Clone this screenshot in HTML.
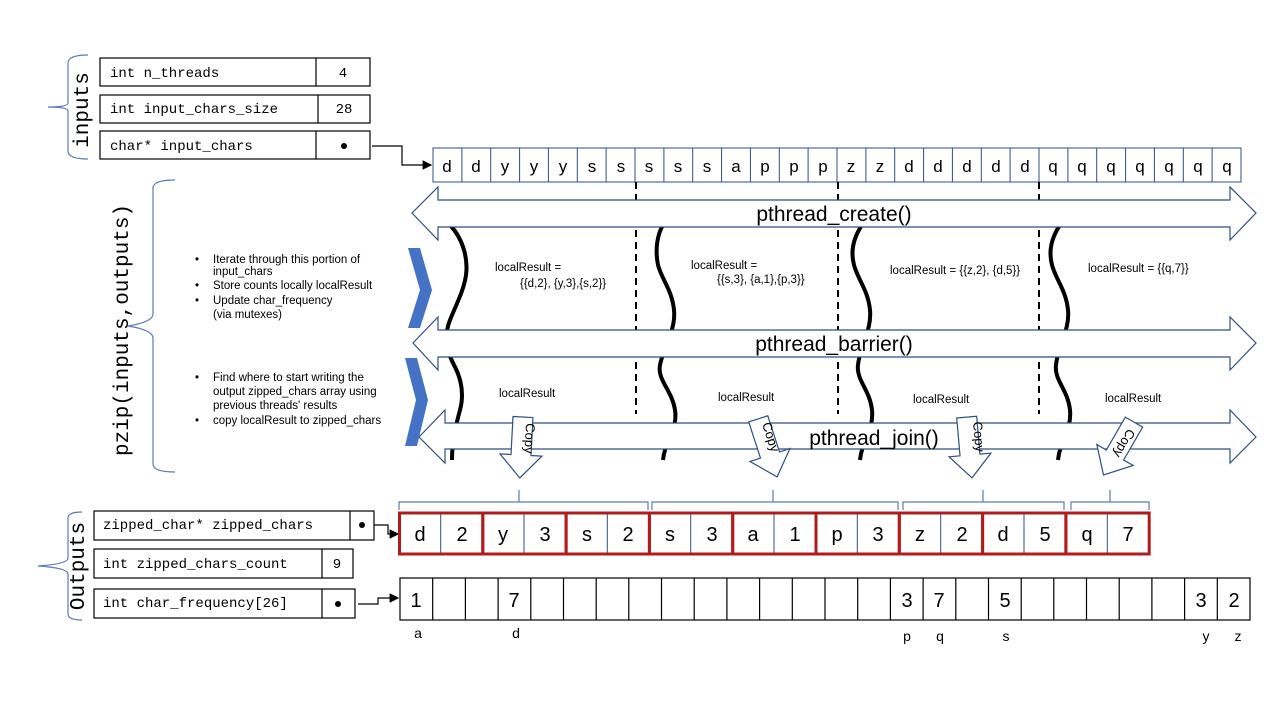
<!DOCTYPE html>
<html><head><meta charset="utf-8"><style>
body{margin:0;background:#fff}
svg{display:block}
.m{font-family:"Liberation Mono",monospace;font-size:14px}
.s{font-family:"Liberation Sans",sans-serif}
</style></head><body>
<svg width="1280" height="720" viewBox="0 0 1280 720" xmlns="http://www.w3.org/2000/svg">
<defs><marker id="ah" markerWidth="8" markerHeight="8" refX="7" refY="4" orient="auto"><path d="M0,0 L8,4 L0,8z" fill="#000"/></marker></defs>
<g fill="none" stroke="#5a7bb5" stroke-width="1.2">
<path d="M88,55 q-20,0 -20,8 v40 q0,4 -20,4 q20,0 20,4 v40 q0,8 20,8"/>
<path d="M175,180 q-22,0 -22,8 v126 q0,8 -25,12 q25,4 25,12 v126 q0,8 22,8"/>
<path d="M82,512 q-14,0 -14,6 v40 q0,6 -30,8 q30,2 30,8 v40 q0,6 14,6"/>
</g>
<text style="font-family:'Liberation Mono',monospace;font-size:21px" transform="translate(88,110) rotate(-90)" text-anchor="middle">inputs</text>
<text style="font-family:'Liberation Mono',monospace;font-size:21px" transform="translate(128,330) rotate(-90)" text-anchor="middle">pzip(inputs,outputs)</text>
<text style="font-family:'Liberation Mono',monospace;font-size:21px" transform="translate(84,566) rotate(-90)" text-anchor="middle">Outputs</text>
<g stroke="#000" stroke-width="1.2" fill="#fff">
<rect x="100" y="58" width="270" height="28"/><line x1="316" y1="58" x2="316" y2="86"/>
<rect x="100" y="95" width="270" height="28"/><line x1="318" y1="95" x2="318" y2="123"/>
<rect x="100" y="131" width="270" height="28"/><line x1="316" y1="131" x2="316" y2="159"/>
<rect x="94" y="511" width="280" height="29"/><line x1="350" y1="511" x2="350" y2="540"/>
<rect x="94" y="549" width="259" height="29"/><line x1="322" y1="549" x2="322" y2="578"/>
<rect x="94" y="589" width="261" height="29"/><line x1="322" y1="589" x2="322" y2="618"/>
</g>
<g class="m">
<text x="110" y="77">int n_threads</text><text x="343" y="77" text-anchor="middle">4</text>
<text x="110" y="113">int input_chars_size</text><text x="344" y="113" text-anchor="middle">28</text>
<text x="110" y="150">char* input_chars</text>
<text x="103" y="529">zipped_char* zipped_chars</text>
<text x="103" y="568">int zipped_chars_count</text><text x="337" y="568" text-anchor="middle">9</text>
<text x="103" y="607">int char_frequency[26]</text>
</g>
<circle cx="344" cy="146" r="3" fill="#000"/><circle cx="362" cy="525" r="3" fill="#000"/><circle cx="338" cy="604" r="3" fill="#000"/>
<g stroke="#000" stroke-width="1.2" fill="none">
<path d="M372,146 H402 V165 H431" marker-end="url(#ah)"/>
<path d="M374,525 H388 V534 H398" marker-end="url(#ah)"/>
<path d="M358,604 H378 V598 H398" marker-end="url(#ah)"/>
</g>
<g stroke="#2f4f80" stroke-width="1" fill="none">
<rect x="433" y="148" width="808" height="34"/>
<path d="M461.9,148V182M490.7,148V182M519.6,148V182M548.4,148V182M577.3,148V182M606.1,148V182M635,148V182M663.9,148V182M692.7,148V182M721.6,148V182M750.4,148V182M779.3,148V182M808.1,148V182M837,148V182M865.9,148V182M894.7,148V182M923.6,148V182M952.4,148V182M981.3,148V182M1010.1,148V182M1039,148V182M1067.9,148V182M1096.7,148V182M1125.6,148V182M1154.4,148V182M1183.3,148V182M1212.1,148V182"/>
</g>
<g class="s" font-size="17" text-anchor="middle">
<text x="447" y="172">d</text><text x="476" y="172">d</text><text x="505" y="172">y</text><text x="534" y="172">y</text><text x="563" y="172">y</text><text x="592" y="172">s</text><text x="621" y="172">s</text><text x="649" y="172">s</text><text x="678" y="172">s</text><text x="707" y="172">s</text><text x="736" y="172">a</text><text x="765" y="172">p</text><text x="794" y="172">p</text><text x="823" y="172">p</text><text x="851" y="172">z</text><text x="880" y="172">z</text><text x="909" y="172">d</text><text x="938" y="172">d</text><text x="967" y="172">d</text><text x="996" y="172">d</text><text x="1025" y="172">d</text><text x="1053" y="172">q</text><text x="1082" y="172">q</text><text x="1111" y="172">q</text><text x="1140" y="172">q</text><text x="1169" y="172">q</text><text x="1198" y="172">q</text><text x="1227" y="172">q</text>
</g>
<g stroke="#000" stroke-width="2" stroke-dasharray="7,5">
<line x1="636" y1="182" x2="636" y2="414"/><line x1="838" y1="182" x2="838" y2="414"/><line x1="1039" y1="182" x2="1039" y2="414"/>
</g>
<g stroke="#000" stroke-width="4" fill="none">
<path d="M450,225 c14,15 18,35 16,50 c-2,15 -10,30 -16,45 c-6,15 -4,30 4,45 c8,15 10,30 6,45 c-4,15 -8,30 -8,50"/>
<path d="M663,225 c-6,10 -8,25 -5,40 c4,15 14,25 16,45 c2,20 -10,35 -14,55 c-3,15 12,25 15,45 c3,20 -10,30 -12,50"/>
<path d="M862,225 c-8,12 -12,25 -8,40 c4,15 14,25 16,45 c2,20 -10,35 -12,55 c-2,15 12,25 14,45 c2,20 -10,30 -12,50"/>
<path d="M1060,225 c-8,12 -12,25 -8,40 c4,15 14,25 16,45 c2,20 -10,35 -12,55 c-2,15 12,25 14,45 c2,20 -10,30 -12,50"/>
</g>
<g fill="#fff" stroke="#2f4f80" stroke-width="1.2">
<path d="M412,213 L438,187 V200 H1230 V187 L1256,213 L1230,240 V227 H438 V240 Z"/>
<path d="M413,343 L438,317 V330 H1230 V317 L1256,343 L1230,370 V357 H438 V370 Z"/>
<path d="M419,437 L445,410 V423 H1230 V410 L1256,437 L1230,463 V449 H445 V463 Z"/>
</g>
<g class="s" font-size="21" text-anchor="middle">
<text x="834" y="221">pthread_create()</text>
<text x="834" y="351">pthread_barrier()</text>
<text x="874" y="445">pthread_join()</text>
</g>
<g fill="#4472c4">
<path d="M408,248 L420,248 L432,290 L420,328 L408,328 L420,290Z"/>
<path d="M405,358 L417,358 L428,400 L417,446 L405,446 L416,400Z"/>
</g>
<g class="s" font-size="11.5">
<text x="495" y="271">localResult =</text><text x="520" y="287">{{d,2}, {y,3},{s,2}}</text>
<text x="691" y="269">localResult =</text><text x="717" y="283">{{s,3}, {a,1},{p,3}}</text>
<text x="890" y="274">localResult = {{z,2}, {d,5}}</text>
<text x="1088" y="272">localResult = {{q,7}}</text>
<text x="499" y="397">localResult</text><text x="718" y="401">localResult</text>
<text x="913" y="403">localResult</text><text x="1105" y="402">localResult</text>
</g>
<g class="s" font-size="11.5">
<text x="195" y="263">•</text><text x="213" y="263">Iterate through this portion of</text>
<text x="213" y="275">input_chars</text>
<text x="195" y="289">•</text><text x="213" y="289">Store counts locally localResult</text>
<text x="195" y="304">•</text><text x="213" y="304">Update char_frequency</text>
<text x="213" y="318">(via mutexes)</text>
<text x="195" y="381">•</text><text x="213" y="381">Find where to start writing the</text>
<text x="213" y="395">output zipped_chars array using</text>
<text x="213" y="409">previous threads' results</text>
<text x="195" y="424">•</text><text x="213" y="424">copy localResult to zipped_chars</text>
</g>
<g fill="#fff" stroke="#2f4f80" stroke-width="1.2">
<path transform="translate(521,455) rotate(3)" d="M-10,-38 H10 V0 H21 L0,23 L-21,0 H-10Z"/>
<path transform="translate(770,455) rotate(-18)" d="M-10,-38 H10 V0 H21 L0,23 L-21,0 H-10Z"/>
<path transform="translate(970,455) rotate(-5)" d="M-10,-38 H10 V0 H21 L0,23 L-21,0 H-10Z"/>
<path transform="translate(1115,455) rotate(30)" d="M-10,-38 H10 V0 H21 L0,23 L-21,0 H-10Z"/>
</g>
<g class="s" font-size="13">
<text transform="translate(526,423) rotate(93)">Copy</text>
<text transform="translate(762,424) rotate(72)">Copy</text>
<text transform="translate(973,422) rotate(85)">Copy</text>
<text transform="translate(1128,428) rotate(120)">Copy</text>
</g>
<g fill="none" stroke="#5a7bb5" stroke-width="1.2">
<path d="M399,510 V502 H519 V490 M519,502 H648 V510"/>
<path d="M652,510 V502 H773 V490 M773,502 H898 V510"/>
<path d="M903,510 V502 H983 V490 M983,502 H1064 V510"/>
<path d="M1071,510 V502 H1110 V490 M1110,502 H1149 V510"/>
</g>
<g stroke="#2f4f80" stroke-width="1"><path d="M440.7,513V553M524,513V553M607.3,513V553M690.7,513V553M774,513V553M857.3,513V553M940.7,513V553M1024,513V553M1107.3,513V553"/></g>
<g fill="none" stroke="#b01c1c" stroke-width="3">
<rect x="399.5" y="513" width="83.3" height="41"/><rect x="482.8" y="513" width="83.3" height="41"/><rect x="566.1" y="513" width="83.3" height="41"/><rect x="649.4" y="513" width="83.3" height="41"/><rect x="732.7" y="513" width="83.3" height="41"/><rect x="816" y="513" width="83.3" height="41"/><rect x="899.3" y="513" width="83.3" height="41"/><rect x="982.6" y="513" width="83.3" height="41"/><rect x="1065.9" y="513" width="83.3" height="41"/>
</g>
<g class="s" font-size="20" text-anchor="middle">
<text x="420" y="541">d</text><text x="462" y="541">2</text><text x="503" y="541">y</text><text x="545" y="541">3</text><text x="587" y="541">s</text><text x="628" y="541">2</text><text x="670" y="541">s</text><text x="712" y="541">3</text><text x="753" y="541">a</text><text x="795" y="541">1</text><text x="837" y="541">p</text><text x="878" y="541">3</text><text x="920" y="541">z</text><text x="962" y="541">2</text><text x="1003" y="541">d</text><text x="1045" y="541">5</text><text x="1087" y="541">q</text><text x="1128" y="541">7</text>
</g>
<g stroke="#000" stroke-width="1.2" fill="none">
<rect x="400" y="578" width="850" height="42"/>
<path d="M432.7,578V620M465.4,578V620M498.1,578V620M530.8,578V620M563.5,578V620M596.2,578V620M628.8,578V620M661.5,578V620M694.2,578V620M726.9,578V620M759.6,578V620M792.3,578V620M825,578V620M857.7,578V620M890.4,578V620M923.1,578V620M955.8,578V620M988.5,578V620M1021.2,578V620M1053.8,578V620M1086.5,578V620M1119.2,578V620M1151.9,578V620M1184.6,578V620M1217.3,578V620"/>
</g>
<g class="s" font-size="20" text-anchor="middle">
<text x="416" y="607">1</text><text x="514" y="607">7</text><text x="907" y="607">3</text><text x="939" y="607">7</text><text x="1005" y="607">5</text><text x="1201" y="607">3</text><text x="1234" y="607">2</text>
</g>
<g class="s" font-size="14" text-anchor="middle">
<text x="418" y="638">a</text><text x="516" y="638">d</text><text x="907" y="641">p</text><text x="940" y="641">q</text><text x="1006" y="641">s</text><text x="1206" y="641">y</text><text x="1238" y="641">z</text>
</g>
</svg>
</body></html>
